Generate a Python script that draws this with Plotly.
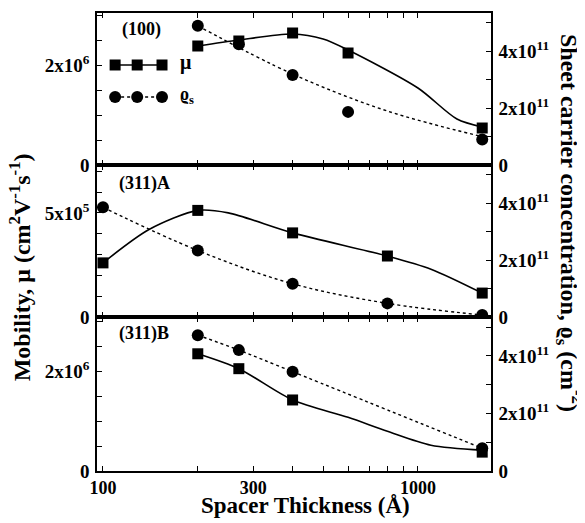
import plotly.graph_objects as go

# ---------------- data ----------------
# (100) panel
x100 = [200, 270, 400, 600, 1600]
mu100 = [2.38e6, 2.48e6, 2.64e6, 2.24e6, 0.74e6]
ns100 = [4.9e11, 4.25e11, 3.17e11, 1.87e11, 0.9e11]
fit_mu100_x = [200, 270, 400, 500, 600, 1000, 1330, 1600]
fit_mu100 = [2.38e6, 2.5e6, 2.62e6, 2.52e6, 2.3e6, 1.54e6, 0.92e6, 0.76e6]
fit_ns100_x = [200, 400, 800, 1600]
fit_ns100 = [4.9e11, 3.2e11, 1.9e11, 1.0e11]

# (311)A panel
x311a = [100, 200, 400, 800, 1600]
mu311a = [2.6e5, 5.12e5, 4.04e5, 2.93e5, 1.15e5]
ns311a = [3.86e11, 2.34e11, 1.17e11, 0.48e11, 0.07e11]
fit_mu311a_x = [100, 140, 200, 250, 400, 800, 1100, 1600]
fit_mu311a = [2.6e5, 4.2e5, 5.12e5, 5.0e5, 4.04e5, 2.93e5, 2.3e5, 1.15e5]

# (311)B panel
x311b = [200, 270, 400, 1600]
mu311b = [2.36e6, 2.06e6, 1.43e6, 0.38e6]
ns311b = [4.72e11, 4.2e11, 3.45e11, 0.79e11]
fit_mu311b_x = [200, 270, 400, 600, 800, 1100, 1600]
fit_mu311b = [2.36e6, 2.06e6, 1.43e6, 1.08e6, 0.8e6, 0.52e6, 0.42e6]

x_tickvals = [100, 200, 300, 400, 500, 600, 700, 800, 900, 1000]
x_ticktext = ["100", "", "300", "", "", "", "", "", "", "1000"]

FONT = "Liberation Serif"
BLACK = "black"

fig = go.Figure()

def add_pair(xa, ya, mx, mmu, mns, fx_mu, fmu, fx_ns, fns):
    fig.add_trace(go.Scatter(x=fx_mu, y=fmu, mode="lines", xaxis=xa, yaxis=ya[0],
                             line=dict(color=BLACK, width=1.6, shape="spline", smoothing=0.8),
                             showlegend=False, hoverinfo="skip"))
    fig.add_trace(go.Scatter(x=mx, y=mmu, mode="markers", xaxis=xa, yaxis=ya[0],
                             marker=dict(symbol="square", size=11, color=BLACK),
                             showlegend=False))
    fig.add_trace(go.Scatter(x=fx_ns, y=fns, mode="lines", xaxis=xa, yaxis=ya[1],
                             line=dict(color=BLACK, width=1.4, dash="dot", shape="spline"),
                             showlegend=False, hoverinfo="skip"))
    fig.add_trace(go.Scatter(x=mx, y=mns, mode="markers", xaxis=xa, yaxis=ya[1],
                             marker=dict(symbol="circle", size=12, color=BLACK),
                             showlegend=False))

add_pair("x", ("y", "y2"), x100, mu100, ns100, fit_mu100_x, fit_mu100, fit_ns100_x, fit_ns100)
add_pair("x2", ("y3", "y4"), x311a, mu311a, ns311a, fit_mu311a_x, fit_mu311a, x311a, ns311a)
add_pair("x3", ("y5", "y6"), x311b, mu311b, ns311b, fit_mu311b_x, fit_mu311b, x311b, ns311b)

# legend samples (drawn on a hidden unit axis inside panel 1)
leg_x = [0.046, 0.102, 0.165]
fig.add_trace(go.Scatter(x=leg_x, y=[0.658] * 3, mode="lines+markers", xaxis="x4", yaxis="y7",
                         line=dict(color=BLACK, width=1.6),
                         marker=dict(symbol="square", size=11, color=BLACK),
                         showlegend=False, hoverinfo="skip"))
fig.add_trace(go.Scatter(x=leg_x, y=[0.447] * 3, mode="lines+markers", xaxis="x4", yaxis="y7",
                         line=dict(color=BLACK, width=1.4, dash="dot"),
                         marker=dict(symbol="circle", size=12, color=BLACK),
                         showlegend=False, hoverinfo="skip"))

tickfont = dict(family=FONT, size=19, color=BLACK, weight="bold")
xtickfont = dict(family=FONT, size=18, color=BLACK, weight="bold")
xrange = [1.981, 3.232]
domains = [[0.6681, 1.0], [0.3362, 0.6681], [0.0, 0.3362]]

def xaxis_def(anchor, labels):
    return dict(type="log", range=xrange, anchor=anchor, automargin=False,
                showline=True, linecolor=BLACK, linewidth=1.5, mirror="ticks",
                ticks="inside", ticklen=5, tickwidth=1.3, tickcolor=BLACK,
                tickmode="array", tickvals=x_tickvals,
                ticktext=x_ticktext if labels else [""] * len(x_tickvals),
                showgrid=False, zeroline=False, tickfont=xtickfont)

def left_y(dom, anchor, rng, vals, texts):
    return dict(domain=dom, anchor=anchor, range=rng, side="left", automargin=False,
                showline=True, linecolor=BLACK, linewidth=1.5,
                ticks="inside", ticklen=5, tickwidth=1.3, tickcolor=BLACK,
                tickmode="array", tickvals=vals, ticktext=texts,
                showgrid=False, zeroline=False, tickfont=tickfont, ticklabelstandoff=2)

def right_y(over, anchor, rng):
    return dict(overlaying=over, anchor=anchor, range=rng, side="right", automargin=False,
                showline=True, linecolor=BLACK, linewidth=1.5,
                ticks="inside", ticklen=5, tickwidth=1.3, tickcolor=BLACK,
                tickmode="array", tickvals=[0, 1e11, 2e11, 3e11, 4e11, 5e11],
                ticktext=["0", "", "2x10<sup>11</sup>", "", "4x10<sup>11</sup>", ""],
                showgrid=False, zeroline=False, tickfont=tickfont, ticklabelstandoff=2)

mu_vals = [0, 0.5e6, 1e6, 1.5e6, 2e6, 2.5e6, 3e6]
mu_text = ["0", "", "", "", "2x10<sup>6</sup>", "", ""]
mua_vals = [0, 1e5, 2e5, 3e5, 4e5, 5e5, 6e5, 7e5]
mua_text = ["0", "", "", "", "", "5x10<sup>5</sup>", "", ""]
ns_range = [0, 5.35e11]

# the page body adds an 8 px offset, so the figure is drawn 8 px smaller
fig.update_layout(
    width=577, height=515,
    margin=dict(l=89, r=94, t=5, b=52),
    paper_bgcolor="white", plot_bgcolor="white",
    font=dict(family=FONT, color=BLACK),
    xaxis=xaxis_def("y", False),
    xaxis2=xaxis_def("y3", False),
    xaxis3=xaxis_def("y5", True),
    xaxis4=dict(overlaying="x", range=[0, 1], visible=False, anchor="y7", automargin=False),
    yaxis=left_y(domains[0], "x", [0, 3.04e6], mu_vals, mu_text),
    yaxis2=right_y("y", "x", ns_range),
    yaxis3=left_y(domains[1], "x2", [0, 7.3e5], mua_vals, mua_text),
    yaxis4=right_y("y3", "x2", ns_range),
    yaxis5=left_y(domains[2], "x3", [0, 3.1e6], mu_vals, mu_text),
    yaxis6=right_y("y5", "x3", ns_range),
    yaxis7=dict(overlaying="y", range=[0, 1], visible=False, anchor="x4", automargin=False),
)

bold18 = dict(family=FONT, size=18, color=BLACK, weight="bold")
ann = [
    dict(text="(100)", x=0.058, y=0.965, xanchor="left", yanchor="middle", font=bold18),
    dict(text="(311)A", x=0.052, y=0.628, xanchor="left", yanchor="middle", font=bold18),
    dict(text="(311)B", x=0.052, y=0.301, xanchor="left", yanchor="middle", font=bold18),
    dict(text="μ", x=0.205, y=0.892, xanchor="left", yanchor="middle",
         font=dict(family=FONT, size=20, color=BLACK, weight="bold")),
    dict(text="ϱ<sub>s</sub>", x=0.205, y=0.819, xanchor="left", yanchor="middle",
         font=dict(family=FONT, size=18, color=BLACK, weight="bold")),
    dict(text="Mobility, μ (cm<sup>2</sup>V<sup>-1</sup>s<sup>-1</sup>)", textangle=-90,
         x=-0.195, y=0.445, xanchor="center", yanchor="middle",
         font=dict(family=FONT, size=24, color=BLACK, weight="bold")),
    dict(text="Sheet carrier concentration, ϱ<sub>s</sub> (cm<sup>-2</sup>)", textangle=90,
         x=1.2, y=0.542, xanchor="center", yanchor="middle",
         font=dict(family=FONT, size=24, color=BLACK, weight="bold")),
    dict(text="Spacer Thickness (Å)", x=0.528, y=-0.076, xanchor="center", yanchor="middle",
         font=dict(family=FONT, size=23, color=BLACK, weight="bold")),
]
for a in ann:
    a.update(xref="paper", yref="paper", showarrow=False)
fig.update_layout(annotations=ann)

fig.write_html("out.html")
